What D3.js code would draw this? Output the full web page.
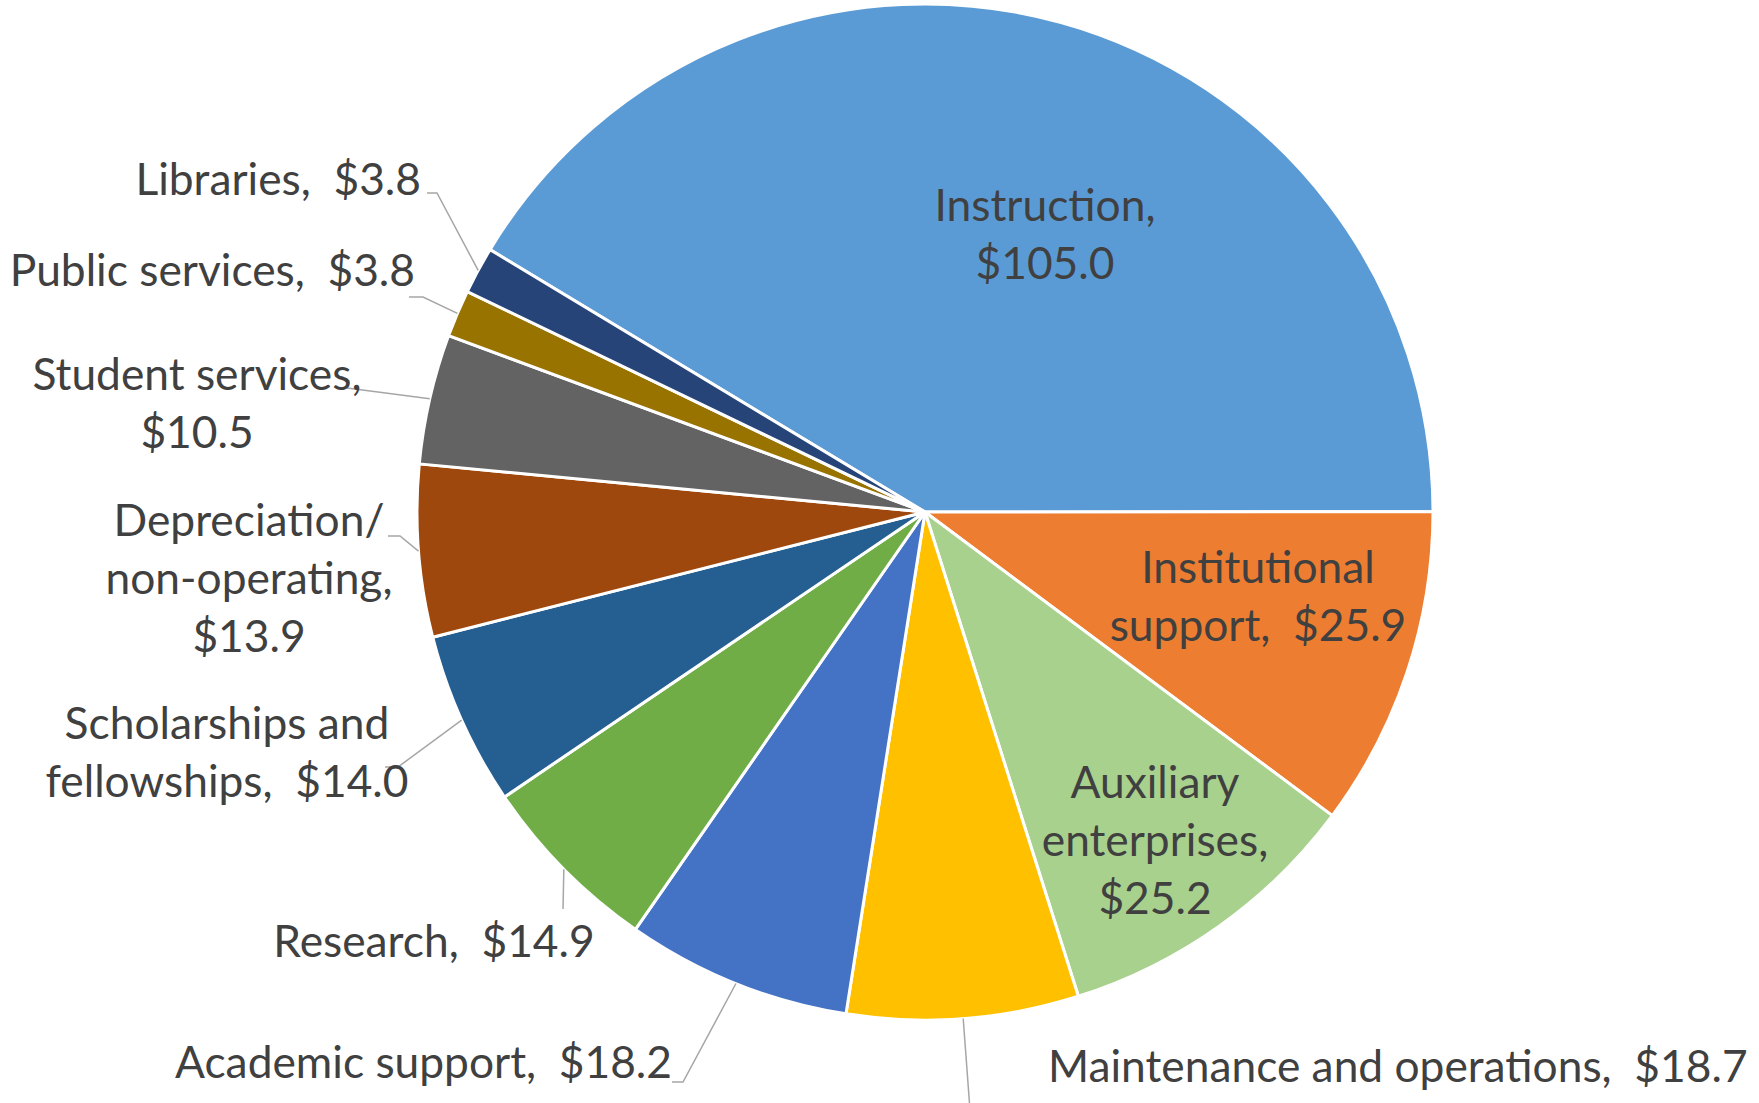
<!DOCTYPE html>
<html>
<head>
<meta charset="utf-8">
<script src="https://cdn.jsdelivr.net/npm/d3@7/dist/d3.min.js"></script>
<style>
  html, body { margin: 0; padding: 0; background: #ffffff; }
  svg { display: block; }
</style>
</head>
<body>
<svg id="chart" width="1759" height="1103"></svg>
<script>
// ---------------- data ----------------
const categories = [
  "Instruction",
  "Institutional support",
  "Auxiliary enterprises",
  "Maintenance and operations",
  "Academic support",
  "Research",
  "Scholarships and fellowships",
  "Depreciation/ non-operating",
  "Student services",
  "Public services",
  "Libraries"
];
const values = [105.0, 25.9, 25.2, 18.7, 18.2, 14.9, 14.0, 13.9, 10.5, 3.8, 3.8];
const colors = [
  "#5B9BD5", "#ED7D31", "#A9D18E", "#FFC000", "#4472C4", "#70AD47",
  "#255E91", "#9E480E", "#636363", "#997300", "#264478"
];

// ---------------- layout ----------------
const W = 1759, H = 1103;
const cx = 925, cy = 512, R = 508;
const firstSliceAngle = 301.1; // degrees, clockwise from 12 o'clock
const lineH = 58;
const baseFont = 47;
// wrap = number of words per line; x / y = anchor and first baseline; leader = label-side points
const layout = [
  { wrap: [1, 1],    x: 1045, y: 221,  anchor: "middle", leader: null },
  { wrap: [1, 2],    x: 1258, y: 583,  anchor: "middle", leader: null },
  { wrap: [1, 1, 1], x: 1155, y: 798,  anchor: "middle", leader: null },
  { wrap: [4],       x: 1048, y: 1082, anchor: "start",  leader: [[970, 1110]] },
  { wrap: [3],       x: 672,  y: 1078, anchor: "end",    leader: [[672, 1082], [683, 1082]] },
  { wrap: [2],       x: 434,  y: 957,  anchor: "middle", leader: [[563, 909]] },
  { wrap: [2, 2],    x: 227,  y: 739,  anchor: "middle", leader: [[385, 767], [398, 767]] },
  { wrap: [1, 1, 1], x: 249,  y: 536,  anchor: "middle", leader: [[388, 536], [400, 536]] },
  { wrap: [2, 1],    x: 197,  y: 390,  anchor: "middle", leader: [[347, 388]] },
  { wrap: [3],       x: 415,  y: 286,  anchor: "end",    leader: [[409, 297], [423, 297]] },
  { wrap: [2],       x: 421,  y: 195,  anchor: "end",    leader: [[427, 193], [437, 193]] }
];

function labelLines(i) {
  const words = (categories[i] + ",").split(" ").concat(["$" + values[i].toFixed(1)]);
  const lines = [];
  let k = 0;
  layout[i].wrap.forEach(n => {
    let s = "";
    for (let j = 0; j < n; j++) {
      const w = words[k++];
      if (j > 0) s += (s.endsWith(",") ? "  " : " ");
      s += w;
    }
    lines.push(s);
  });
  return lines;
}

// ---------------- drawing ----------------
const svg = d3.select("#chart");
const g = svg.append("g").attr("transform", `translate(${cx},${cy})`);

const rot = firstSliceAngle * Math.PI / 180;
const pie = d3.pie().sort(null).value(d => d).startAngle(rot).endAngle(rot + 2 * Math.PI);
const arcs = pie(values);
const arc = d3.arc().innerRadius(0).outerRadius(R);
const edgeArc = d3.arc().innerRadius(R).outerRadius(R);

g.selectAll("path.slice")
  .data(arcs)
  .enter().append("path")
  .attr("class", "slice")
  .attr("d", arc)
  .attr("fill", (d, i) => colors[i])
  .attr("stroke", "#ffffff")
  .attr("stroke-width", 3)
  .attr("stroke-linejoin", "round");

// leader lines
const line = d3.line();
arcs.forEach((a, i) => {
  const L = layout[i];
  if (!L.leader) return;
  const e = edgeArc.centroid(a);
  const pts = L.leader.concat([[cx + e[0], cy + e[1]]]);
  svg.append("path")
    .attr("d", line(pts))
    .attr("fill", "none")
    .attr("stroke", "#A6A6A6")
    .attr("stroke-width", 1.5);
});

// labels
const fontFamily = "Lato, 'Open Sans', 'Liberation Sans', sans-serif";
const labelG = svg.append("g")
  .attr("font-family", fontFamily)
  .attr("fill", "#404040");

// fit font size to the reference width of the longest single-line label (Calibri-like metrics)
const probe = labelG.append("text").attr("font-size", baseFont).text(labelLines(3)[0]);
const measured = probe.node().getComputedTextLength();
probe.remove();
const fontSize = measured > 0 ? 0.985 * baseFont * 699 / measured : 44;

arcs.forEach((a, i) => {
  const L = layout[i];
  const t = labelG.append("text")
    .attr("font-size", fontSize.toFixed(2))
    .attr("text-anchor", L.anchor);
  labelLines(i).forEach((s, j) => {
    t.append("tspan")
      .attr("x", L.x)
      .attr("y", L.y + j * lineH)
      .attr("xml:space", "preserve")
      .style("white-space", "pre")
      .text(s);
  });
});
</script>
</body>
</html>
